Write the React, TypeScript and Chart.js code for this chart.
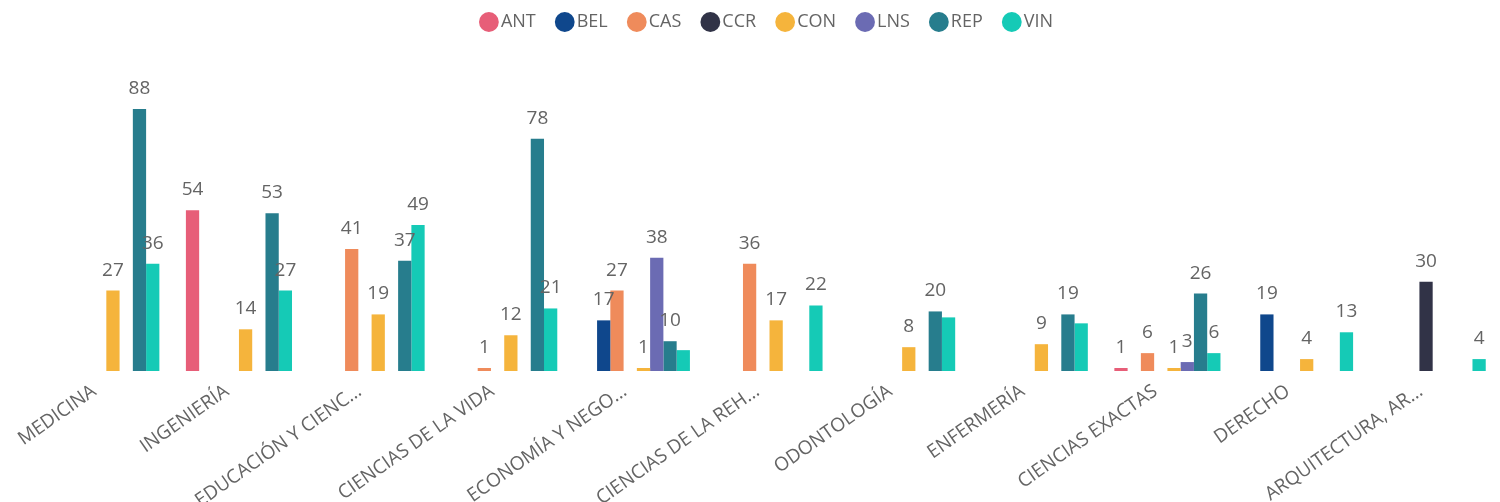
import { useEffect, useRef } from "react";
import { Chart, registerables } from "chart.js";

Chart.register(...registerables);

const categories = [
  "MEDICINA",
  "INGENIERÍA",
  "EDUCACIÓN Y CIENC…",
  "CIENCIAS DE LA VIDA",
  "ECONOMÍA Y NEGO…",
  "CIENCIAS DE LA REH…",
  "ODONTOLOGÍA",
  "ENFERMERÍA",
  "CIENCIAS EXACTAS",
  "DERECHO",
  "ARQUITECTURA, AR…",
];

const seriesNames = ["ANT", "BEL", "CAS", "CCR", "CON", "LNS", "REP", "VIN"];
const seriesColors = ["#E75E78", "#0F478C", "#EF8B5B", "#313347", "#F5B43C", "#6B6BB3", "#277D8D", "#15CAB6"];

const ANT = [null, 54, null, null, null, null, null, null, 1, null, null];
const BEL = [null, null, null, null, 17, null, null, null, null, 19, null];
const CAS = [null, null, 41, 1, 27, 36, null, null, 6, null, null];
const CCR = [null, null, null, null, null, null, null, null, null, null, 30];
const CON = [27, 14, 19, 12, 1, 17, 8, 9, 1, 4, null];
const LNS = [null, null, null, null, 38, null, null, null, 3, null, null];
const REP = [88, 53, 37, 78, 10, null, 20, 19, 26, null, null];
const VIN = [36, 27, 49, 21, 7, 22, 18, 16, 6, 13, 4];

const seriesValues = [ANT, BEL, CAS, CCR, CON, LNS, REP, VIN];

const TEXT = "#646464";
const FONT = "'Open Sans', 'Noto Sans', sans-serif";

const dataLabelPlugin = {
  id: "dataLabels",
  afterDatasetsDraw(chart: any) {
    const ctx = chart.ctx;
    ctx.save();
    ctx.font = `19px ${FONT}`;
    ctx.fillStyle = TEXT;
    ctx.textAlign = "center";
    ctx.textBaseline = "alphabetic";
    const boxes: { l: number; r: number; t: number; b: number }[] = [];
    chart.data.datasets.forEach((ds: any, di: number) => {
      const meta = chart.getDatasetMeta(di);
      meta.data.forEach((bar: any, i: number) => {
        const v = ds.data[i];
        if (v == null) return;
        const text = String(v);
        const w = ctx.measureText(text).width;
        const x = bar.x;
        const y = bar.y - 15;
        const box = { l: x - w / 2, r: x + w / 2, t: y - 14, b: y };
        if (boxes.some((b) => box.l < b.r && box.r > b.l && box.t < b.b && box.b > b.t)) return;
        boxes.push(box);
        ctx.fillText(text, x, y);
      });
    });
    ctx.restore();
  },
};

export default function App() {
  const ref = useRef<HTMLCanvasElement | null>(null);

  useEffect(() => {
    if (!ref.current) return;
    const chart = new Chart(ref.current, {
      type: "bar",
      data: {
        labels: categories,
        datasets: seriesNames.map((name, i) => ({
          label: name,
          data: seriesValues[i],
          backgroundColor: seriesColors[i],
          borderWidth: 0,
          barPercentage: 1,
          categoryPercentage: 0.8,
        })),
      },
      options: {
        animation: false,
        responsive: true,
        maintainAspectRatio: false,
        layout: { padding: { left: 40, right: 1, top: -13, bottom: 0 } },
        plugins: {
          legend: {
            display: true,
            position: "top",
            labels: {
              usePointStyle: true,
              pointStyle: "circle",
              boxWidth: 6,
              boxHeight: 14,
              padding: 26,
              color: TEXT,
              font: { family: FONT, size: 18 },
            },
          },
          tooltip: { enabled: false },
        },
        scales: {
          x: {
            grid: { display: false },
            border: { display: false },
            ticks: {
              autoSkip: false,
              minRotation: 35,
              maxRotation: 35,
              color: TEXT,
              font: { family: FONT, size: 19 },
              padding: 1,
              labelOffset: -12,
            },
            afterFit: (scale: any) => {
              scale.height = 131;
            },
          },
          y: {
            display: false,
            min: 0,
            max: 110.8,
            afterFit: undefined,
          },
        },
      },
      plugins: [dataLabelPlugin],
    });
    return () => chart.destroy();
  }, []);

  return (
    <div style={{ position: "absolute", left: 0, top: 0, width: 1500, height: 502 }}>
      <canvas ref={ref} />
    </div>
  );
}
